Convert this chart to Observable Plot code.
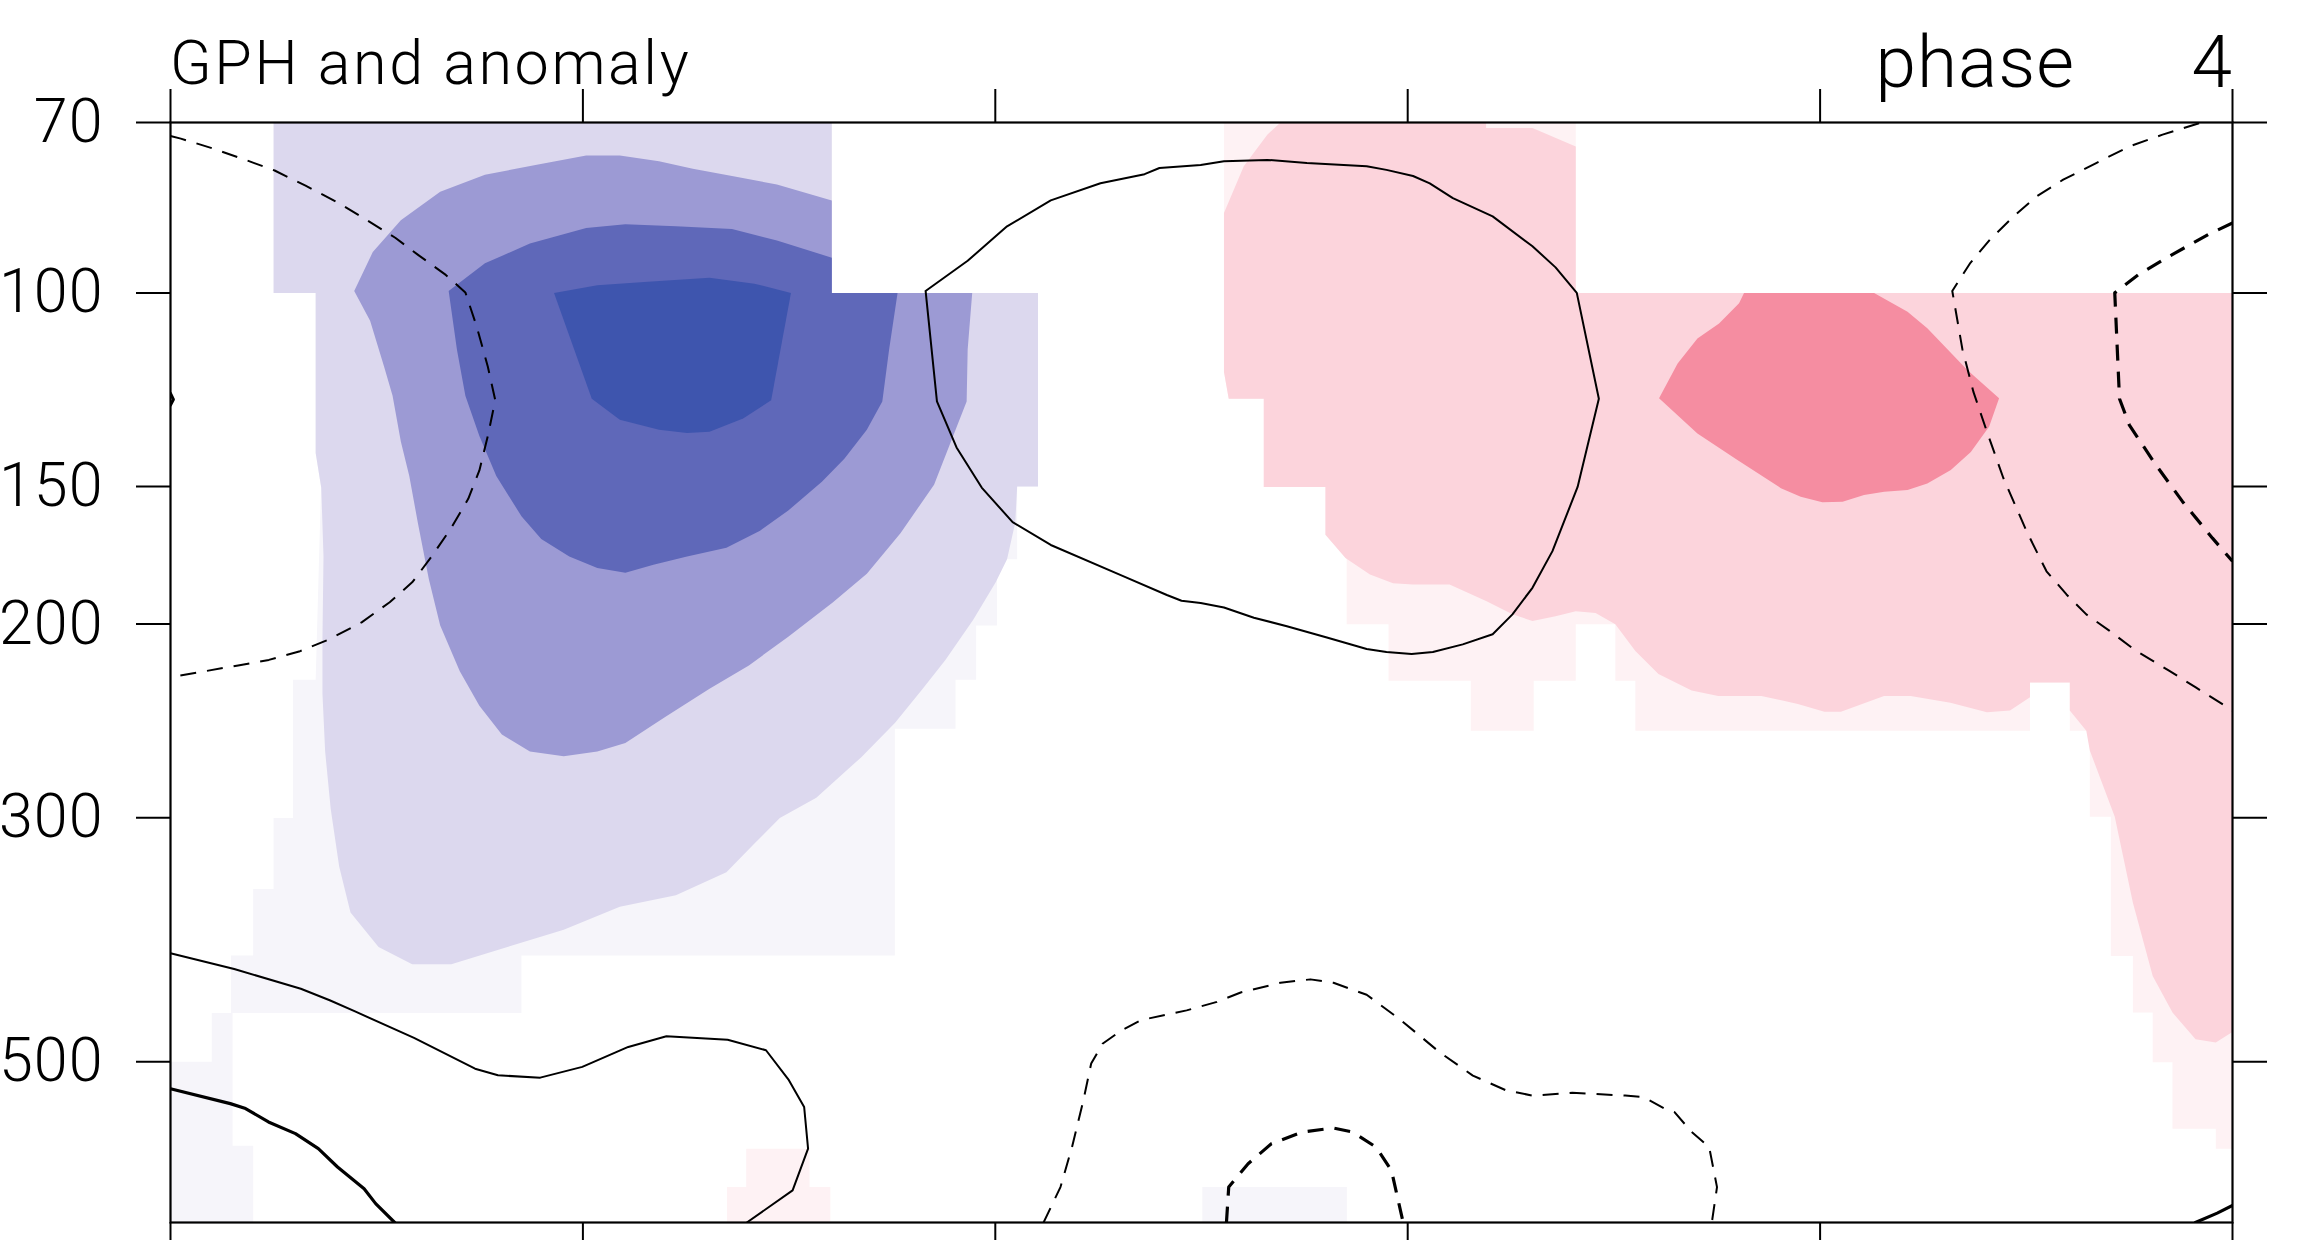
<!DOCTYPE html>
<html>
<head>
<meta charset="utf-8">
<script src="https://cdn.jsdelivr.net/npm/d3@7"></script>
<script src="https://cdn.jsdelivr.net/npm/@observablehq/plot@0.6"></script>
<style>
  html, body { margin: 0; padding: 0; background: #fff; overflow: hidden; }
  #wrap { position: relative; width: 2316px; height: 1240px; overflow: hidden; background: #fff; }
  #chart { position: absolute; left: 0; top: 0; }
  .ttl { position: absolute; font-family: Roboto, "Liberation Sans", Arial, sans-serif; font-weight: 300; color: #000; line-height: 1; white-space: pre; z-index: 2; }
  #chart svg text { font-weight: 300; letter-spacing: 1px; }
</style>
</head>
<body>
<div id="wrap">
  <div id="chart"></div>
  <div class="ttl" style="left:170px; top:33px; font-size:61px; letter-spacing:2.6px;">GPH and anomaly</div>
  <div class="ttl" style="right:241px; top:26px; font-size:73px; letter-spacing:1px;">phase</div>
  <div class="ttl" style="right:84px; top:26px; font-size:73px;">4</div>
</div>
<script>
// ---- axes ----
const xTicks = [0, 20, 40, 60, 80, 100];
const pTicks = [70, 100, 150, 200, 300, 500];

// ---- shading levels (anomaly classes) ----
const levels = ["-4", "-3", "-2", "-1", "-0.5", "0.5", "1", "2"];
const palette = ["#3e55ae", "#5f68b9", "#9c9ad4", "#dcd8ee", "#f6f5fa", "#fef2f4", "#fcd4dc", "#f58da1"];

// ---- shaded regions: [x, pressure hPa] ----
const faintBlue = [
  [[5.00,70],[32.07,70],[32.07,100],[42.07,100],[42.07,150],[41.06,150],[41.06,174.6],[40.08,174.6],[40.08,200.6],[39.07,200.6],[39.07,224.8],[38.07,224.8],[38.07,249],[35.13,249],[35.13,400.3],[17.02,400.3],[17.02,451.4],[2.93,451.4],[2.93,400.3],[4.01,400.3],[4.01,348.2],[5.00,348.2],[5.00,300.2],[5.94,300.2],[5.94,224.8],[7.04,224.8],[7.30,150.2],[7.04,139.8],[7.04,100],[5.00,100]],
  [[2.00,451.4],[3.01,451.4],[3.01,596.1],[4.01,596.1],[4.01,700],[0,700],[0,500],[2.00,500]],
  [[50.04,650],[57.05,650],[57.05,700],[50.04,700]]
];
const lightBlue = [
  [[5.00,70],[32.07,70],[32.07,100],[42.07,100],[42.07,150],[41.06,150],[40.97,161.6],[40.57,174.6],[40.02,183.3],[38.93,198.2],[37.58,215.6],[36.49,228.9],[35.13,246.0],[33.49,264.4],[31.32,287.7],[29.55,300.1],[28.32,316.7],[26.96,336.2],[24.51,352.9],[21.79,361.5],[19.07,379.2],[16.34,393.2],[13.62,407.7],[11.72,407.7],[10.09,393.2],[8.73,365.9],[8.18,332.3],[7.77,294.6],[7.50,261.2],[7.37,231.6],[7.37,205.4],[7.42,173.6],[7.31,150.3],[7.04,139.8],[7.04,100],[5.00,100]]
];
const midBlue = [
  [[8.91,99.6],[9.81,91.8],[11.17,85.9],[13.08,80.9],[15.25,78.1],[17.70,76.5],[20.16,75.0],[21.79,75.0],[23.69,75.9],[25.33,77.1],[27.23,78.3],[29.41,79.7],[32.07,82.4],[32.07,100],[38.88,100],[38.66,112.6],[38.61,125.5],[37.85,136.5],[37.03,149.4],[35.40,165.4],[33.77,180.0],[32.13,191.1],[29.96,205.4],[28.05,218.1],[26.14,229.0],[23.97,243.1],[22.06,256.6],[20.70,261.2],[19.07,263.8],[17.43,261.2],[16.07,252.0],[14.98,237.3],[14.03,220.8],[13.08,200.6],[12.53,182.1],[11.99,161.6],[11.58,146.7],[11.17,136.5],[10.77,124.0],[10.36,116.7],[9.68,106.0]]
];
const darkBlue = [
  [[13.49,99.6],[15.25,94.0],[17.43,90.2],[20.16,87.3],[22.06,86.6],[24.51,87.0],[27.23,87.5],[29.41,89.6],[32.07,92.9],[32.07,100],[35.26,100],[34.85,112.6],[34.52,125.5],[33.77,133.2],[32.68,141.5],[31.59,148.5],[29.96,157.7],[28.59,164.5],[26.96,170.5],[25.05,173.6],[23.42,176.7],[22.06,179.6],[20.70,177.9],[19.34,173.6],[17.98,167.4],[17.02,159.6],[15.80,146.7],[14.98,134.9],[14.30,124.0],[13.89,112.6]]
];
const deepBlue = [
  [[18.60,100],[20.70,98.4],[23.15,97.7],[26.14,96.9],[28.32,98.1],[30.09,100],[29.13,125.2],[27.77,130.1],[26.14,133.7],[25.05,134.1],[23.69,133.2],[21.79,130.4],[20.43,124.8]]
];
const faintPink = [
  [[51.09,70],[68.15,70],[68.15,100],[100,100],[100,599.8],[99.19,599.8],[99.19,575.3],[97.09,575.3],[97.09,500.6],[96.13,500.6],[96.13,451.1],[95.17,451.1],[95.17,400.8],[94.10,400.8],[94.10,299.4],[93.08,299.4],[93.08,250],[92.11,250],[92.11,226.1],[90.18,226.1],[90.18,250],[71.04,250],[71.04,225.2],[70.07,225.2],[70.07,200.1],[68.15,200.1],[68.15,225.2],[66.11,225.2],[66.11,250],[63.06,250],[63.06,225.2],[59.07,225.2],[59.07,200.1],[57.04,200.1],[57.04,174.2],[56.01,165.9],[56.01,150.1],[53.02,150.1],[53.02,124.8],[51.32,124.8],[51.09,118.0]],
  [[27.92,599.8],[30.99,599.8],[30.99,650],[32.00,650],[32.00,700],[26.99,700],[26.99,650],[27.92,650]]
];
const lightPink = [
  [[51.09,84.6],[52.05,76.7],[53.19,71.8],[53.83,70],[63.80,70],[63.80,70.8],[66.05,70.8],[68.15,73.6],[68.15,100],[100,100],[100,469.8],[99.19,480.2],[98.21,476.9],[97.09,451.1],[96.13,417.8],[95.17,358.5],[94.29,299.4],[93.08,260.6],[92.91,250.0],[92.11,239.7],[92.11,226.1],[90.18,226.1],[90.18,233.1],[89.21,239.7],[88.09,240.6],[86.32,235.8],[84.39,232.5],[83.10,232.5],[81.01,240.3],[80.21,240.3],[78.92,236.4],[77.15,232.5],[75.06,232.5],[73.77,229.9],[72.16,222.1],[71.04,211.6],[70.07,200.1],[69.11,195.4],[68.15,194.7],[67.17,196.8],[66.05,198.7],[65.08,196.0],[63.80,190.6],[62.03,184.1],[60.26,184.1],[59.29,183.6],[58.17,180.3],[56.98,174.2],[56.01,165.9],[56.01,150.1],[53.02,150.1],[53.02,124.8],[51.32,124.8],[51.09,118.0]]
];
const midPink = [
  [[76.31,100],[82.62,100],[84.24,104.0],[85.20,107.7],[87.14,117.5],[88.68,124.7],[88.20,132.3],[87.31,139.5],[86.34,144.9],[85.20,149.0],[84.24,151.1],[83.11,151.6],[82.13,152.7],[81.09,154.8],[80.11,155.0],[79.06,153.2],[78.10,150.5],[75.99,141.9],[74.05,134.2],[72.19,124.7],[73.09,115.9],[74.05,110.0],[75.10,106.6],[76.07,102.2]]
];

// ---- GPH contour lines: [x, pressure hPa] ----
const negThinTopLeft = [[0,72.0],[0.50,72.4],[2.05,73.9],[3.55,75.6],[5.05,77.4],[6.55,79.9],[8.18,82.9],[9.54,85.9],[10.90,89.1],[11.99,92.3],[13.35,96.3],[14.30,99.9],[14.85,107.3],[15.39,116.7],[15.75,125.2],[15.39,134.9],[14.98,145.0],[14.44,153.9],[13.62,163.5],[12.67,173.6],[11.72,183.3],[10.63,191.1],[9.27,199.3],[7.64,206.7],[6.28,211.7],[4.77,215.6],[3.28,218.1],[1.65,220.8],[0,223.5]];
const posThinLoop = [[36.62,99.6],[38.66,93.5],[40.57,87.0],[42.69,82.4],[45.10,79.5],[47.24,78.0],[47.96,77.0],[49.96,76.5],[51.09,75.9],[53.19,75.7],[55.11,76.2],[58.01,76.7],[58.97,77.3],[60.26,78.3],[61.07,79.5],[62.19,82.0],[64.12,85.2],[66.05,90.7],[67.17,94.8],[68.20,100],[69.27,124.8],[68.24,150.1],[67.02,171.7],[66.05,185.4],[65.08,196.0],[64.12,204.3],[62.67,208.7],[61.22,212.1],[60.19,213.0],[58.97,212.1],[58.01,210.7],[56.08,205.7],[54.14,200.9],[52.54,197.4],[51.09,193.2],[49.96,191.4],[49.03,190.5],[48.32,188.2],[46.17,180.8],[42.69,169.5],[40.84,161.6],[39.34,150.3],[38.12,138.2],[37.17,125.5],[36.62,99.6]];
const negThinTopRight = [[98.38,70.1],[96.61,71.8],[95.00,73.6],[93.39,76.2],[91.79,78.9],[90.50,81.7],[89.38,85.2],[88.25,89.4],[87.29,93.9],[86.41,99.6],[86.90,112.5],[87.44,123.1],[88.09,133.7],[88.89,147.4],[90.02,164.8],[90.98,179.1],[91.95,188.0],[92.91,196.0],[94.04,202.9],[95.33,211.6],[96.94,220.6],[98.22,228.4],[100,239.7]];
const negThickTopRight = [[100,86.4],[98.87,88.4],[96.94,92.6],[95.49,96.1],[94.29,100],[94.52,124.8],[95.00,131.9],[96.29,143.4],[97.58,154.8],[99.03,167.1],[100,175.4]];
const negThinBottom = [[42.34,700],[43.16,650],[43.72,597.8],[44.27,542.2],[44.65,501.9],[45.20,481.5],[46.13,468.1],[47.06,458.3],[49.28,449.0],[50.75,441.1],[51.90,432.5],[53.83,423.8],[55.28,420.8],[56.40,423.8],[58.01,434.6],[59.61,457.3],[61.55,490.2],[63.16,514.7],[64.76,530.7],[66.05,536.7],[67.98,533.6],[70.55,536.7],[71.43,538.3],[72.48,551.7],[72.94,555.6],[73.77,579.2],[74.62,597.8],[75.00,650],[74.75,700]];
const negThickBottom = [[51.21,700],[51.32,650],[52.26,619.0],[53.39,593.6],[54.89,579.2],[56.39,574.4],[57.33,579.2],[58.46,597.8],[59.21,627.5],[59.78,700]];
const posThinBottomLeft = [[0,398.4],[3.09,411.8],[6.32,429.1],[7.72,439.6],[8.95,450.0],[11.81,475.7],[14.77,507.3],[15.88,514.4],[17.93,516.9],[19.97,505.4],[22.20,484.7],[24.05,474.0],[27.02,477.5],[28.88,488.1],[29.99,519.7],[30.73,549.7],[30.92,599.8],[30.17,654.5],[27.95,700]];
const posThickBottomLeft = [[0,529.1],[2.90,545.8],[3.64,551.5],[4.75,567.1],[6.06,581.2],[7.17,599.8],[8.10,623.2],[9.39,652.3],[9.95,672.9],[10.87,700]];
const posThickBottomRight = [[98.20,700],[99.26,686.4],[100,675.4]];
const edgeTick = [[0,123.4],[0.14,125.0],[0,126.5]];

// ---- build tables ----
function polys(list, level) {
  const rows = [];
  list.forEach((poly, i) => poly.forEach(([x, p]) => rows.push({x, p, id: level + "_" + i, level})));
  return rows;
}
function pts(list) { return list.map(([x, p]) => ({x, p})); }

const fillOrder = [
  [faintBlue, "-0.5"], [faintPink, "0.5"],
  [lightBlue, "-1"], [midBlue, "-2"], [darkBlue, "-3"], [deepBlue, "-4"],
  [lightPink, "1"], [midPink, "2"]
];
const fillMarks = fillOrder.map(([list, lev]) =>
  Plot.line(polys(list, lev), {x: "x", y: "p", z: "id", fill: "level", stroke: "none", curve: "linear-closed", clip: true})
);

const thin = 2.0, thick = 3.2;
const dash = "16,11";
const lineMarks = [
  Plot.line(pts(posThinLoop), {x: "x", y: "p", stroke: "black", strokeWidth: thin, clip: true}),
  Plot.line(pts(posThinBottomLeft), {x: "x", y: "p", stroke: "black", strokeWidth: thin, clip: true}),
  Plot.line(pts(posThickBottomLeft), {x: "x", y: "p", stroke: "black", strokeWidth: thick, clip: true}),
  Plot.line(pts(posThickBottomRight), {x: "x", y: "p", stroke: "black", strokeWidth: thick, clip: true}),
  Plot.line(pts(edgeTick), {x: "x", y: "p", stroke: "black", strokeWidth: 3, clip: true}),
  Plot.line(pts(negThinTopLeft), {x: "x", y: "p", stroke: "black", strokeWidth: thin, strokeDasharray: dash, strokeLinecap: "butt", clip: true}),
  Plot.line(pts(negThinTopRight), {x: "x", y: "p", stroke: "black", strokeWidth: thin, strokeDasharray: dash, strokeLinecap: "butt", clip: true}),
  Plot.line(pts(negThinBottom), {x: "x", y: "p", stroke: "black", strokeWidth: thin, strokeDasharray: dash, strokeLinecap: "butt", clip: true}),
  Plot.line(pts(negThickTopRight), {x: "x", y: "p", stroke: "black", strokeWidth: thick, strokeDasharray: dash, strokeLinecap: "butt", clip: true}),
  Plot.line(pts(negThickBottom), {x: "x", y: "p", stroke: "black", strokeWidth: thick, strokeDasharray: dash, strokeLinecap: "butt", clip: true})
];

const chart = Plot.plot({
  width: 2316,
  height: 1240,
  marginTop: 122,
  marginBottom: 18,
  marginLeft: 170,
  marginRight: 84,
  style: {fontFamily: "Roboto, 'Liberation Sans', Arial, sans-serif", fontSize: "61px", color: "black", background: "transparent"},
  x: {domain: [0, 100]},
  y: {type: "log", domain: [70, 700], reverse: true},
  color: {type: "ordinal", domain: levels, range: palette},
  marks: [
    ...fillMarks,
    ...lineMarks,
    Plot.frame({stroke: "black", strokeWidth: 2.2}),
    Plot.axisY({anchor: "left", ticks: pTicks, tickFormat: d => String(d), tickSize: 34, tickPadding: 33, strokeWidth: 2, label: null, fontSize: 61}),
    Plot.axisY({anchor: "right", ticks: pTicks, tickFormat: () => "", tickSize: 34, strokeWidth: 2, label: null}),
    Plot.axisX({anchor: "top", ticks: xTicks, tickFormat: () => "", tickSize: 34, strokeWidth: 2, label: null}),
    Plot.axisX({anchor: "bottom", ticks: xTicks, tickFormat: () => "", tickSize: 34, strokeWidth: 2, label: null})
  ]
});
document.getElementById("chart").appendChild(chart);
</script>
</body>
</html>
